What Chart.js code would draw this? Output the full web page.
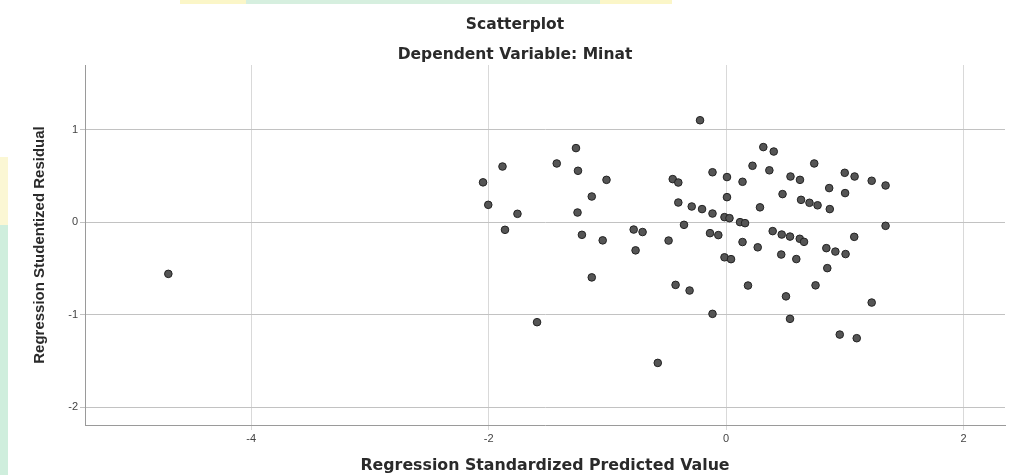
<!DOCTYPE html>
<html>
<head>
<meta charset="utf-8">
<script src="https://cdn.jsdelivr.net/npm/chart.js@4.4.1/dist/chart.umd.min.js"></script>
<style>
  html, body { margin: 0; padding: 0; background: #ffffff; }
  #wrap { position: relative; width: 1012px; height: 475px; }
  #c { position: absolute; left: 0; top: 0; }
  .deco { position: absolute; }
</style>
</head>
<body>
<div id="wrap">
  <div class="deco" style="left:180px;top:0;width:66px;height:4px;background:#fbf6c8;"></div>
  <div class="deco" style="left:246px;top:0;width:354px;height:4px;background:#d6efdf;"></div>
  <div class="deco" style="left:600px;top:0;width:72px;height:4px;background:#fbf6c8;"></div>
  <div class="deco" style="left:0;top:157px;width:8px;height:68px;background:#fbf7d4;"></div>
  <div class="deco" style="left:0;top:225px;width:8px;height:250px;background:#cfeedd;"></div>
  <canvas id="c" width="1012" height="475"></canvas>
</div>
<script>
// ---- data ----
const chartTitle = "Scatterplot";
const chartSubtitle = "Dependent Variable: Minat";
const xAxisTitle = "Regression Standardized Predicted Value";
const yAxisTitle = "Regression Studentized Residual";

const xTicks = [-4, -2, 0, 2];
const yTicks = [1, 0, -1, -2];
const xRange = [-5.40, 2.35];
const yRange = [-2.19, 1.70];

const predictedValues = [
  -0.219, -1.264, -1.883, -1.426, -1.247, -2.047, -1.007, -0.449, -0.402, -0.114,
   0.008, -1.131, -2.003, -1.757, -1.251, -0.402, -0.289, -0.202, -0.114, -0.354,
  -1.862, -1.214, -1.039, -0.778, -0.703, -0.762, -0.484, -0.135, -0.065, -1.131,
  -0.425, -0.307, -0.114, -1.592, -0.575, -4.698,  0.008,  0.314,  0.402,  0.139,
   0.223,  0.365,  0.743,  0.543,  0.623,  1.000,  1.083,  1.227,  1.344,  0.869,
   1.003,  0.476,  0.286,  0.632,  0.703,  0.771,  0.874, -0.013,  0.029,  0.118,
   0.160,  1.344,  0.393,  0.469,  0.539,  0.621,  0.657,  1.080,  0.139,  0.267,
   0.845,  0.921,  1.007,  0.465,  0.592, -0.013,  0.042,  0.853,  0.185,  0.754,
   0.505,  1.227,  0.539,  0.958,  1.101
];
const studentizedResiduals = [
   1.103,  0.802,  0.603,  0.636,  0.557,  0.432,  0.459,  0.467,  0.430,  0.541,
   0.489,  0.279,  0.189,  0.092,  0.106,  0.214,  0.171,  0.143,  0.095, -0.027,
  -0.081, -0.135, -0.195, -0.078, -0.105, -0.303, -0.197, -0.117, -0.138, -0.595,
  -0.676, -0.737, -0.989, -1.079, -1.519, -0.557,  0.272,  0.813,  0.765,  0.438,
   0.611,  0.562,  0.636,  0.495,  0.459,  0.535,  0.495,  0.449,  0.398,  0.370,
   0.316,  0.305,  0.162,  0.243,  0.211,  0.184,  0.143,  0.056,  0.045,  0.002,
  -0.009, -0.038, -0.095, -0.132, -0.154, -0.178, -0.211, -0.157, -0.213, -0.270,
  -0.279, -0.316, -0.343, -0.348, -0.397, -0.378, -0.398, -0.495, -0.683, -0.681,
  -0.800, -0.867, -1.043, -1.213, -1.252
];

const points = predictedValues.map((x, i) => ({ x: x, y: studentizedResiduals[i] }));
const FONT = "'Liberation Sans', Arial, sans-serif";
const WIDE = "'DejaVu Sans', 'Liberation Sans', sans-serif";

new Chart(document.getElementById('c'), {
  type: 'scatter',
  data: {
    datasets: [{
      data: points,
      backgroundColor: '#555555',
      borderColor: '#222222',
      borderWidth: 1,
      pointRadius: 3.8,
      pointHoverRadius: 3.8
    }]
  },
  options: {
    responsive: false,
    animation: false,
    devicePixelRatio: 1,
    layout: { padding: { left: 25, right: 7, top: 0, bottom: 0 } },
    plugins: {
      legend: { display: false },
      tooltip: { enabled: false },
      title: {
        display: true,
        text: chartTitle,
        color: '#2a2a2a',
        font: { family: WIDE, size: 15.5, weight: 'bold' },
        padding: { top: 15.7, bottom: 2 }
      },
      subtitle: {
        display: true,
        text: chartSubtitle,
        color: '#2a2a2a',
        font: { family: WIDE, size: 15.5, weight: 'bold' },
        padding: { top: 9.4, bottom: 0.7 }
      }
    },
    scales: {
      x: {
        type: 'linear',
        min: xRange[0],
        max: xRange[1],
        afterBuildTicks: (s) => { s.ticks = xTicks.map(v => ({ value: v })); },
        afterFit: (s) => { s.height = 50; },
        grid: { color: '#d9d9d9', lineWidth: 1, tickLength: 5, drawOnChartArea: true },
        border: { display: true, color: '#9a9a9a', width: 1 },
        ticks: {
          color: '#444444',
          font: { family: FONT, size: 11 },
          padding: 2,
          maxRotation: 0,
          callback: (v) => String(v)
        },
        title: {
          display: true,
          text: xAxisTitle,
          color: '#2a2a2a',
          font: { family: WIDE, size: 15.8, weight: 'bold' },
          padding: { top: 0, bottom: 0 }
        }
      },
      y: {
        type: 'linear',
        min: yRange[0],
        max: yRange[1],
        afterBuildTicks: (s) => { s.ticks = yTicks.map(v => ({ value: v })); },
        afterFit: (s) => { s.width = 60; },
        grid: { color: '#c2c2c2', lineWidth: 1, tickLength: 5 },
        border: { display: true, color: '#9a9a9a', width: 1 },
        ticks: {
          color: '#444444',
          font: { family: FONT, size: 11 },
          padding: 2,
          callback: (v) => String(v)
        },
        title: {
          display: true,
          text: yAxisTitle,
          color: '#2a2a2a',
          font: { family: FONT, size: 15, weight: 'bold' },
          padding: { top: 6, bottom: 0 }
        }
      }
    }
  }
});
</script>
</body>
</html>
